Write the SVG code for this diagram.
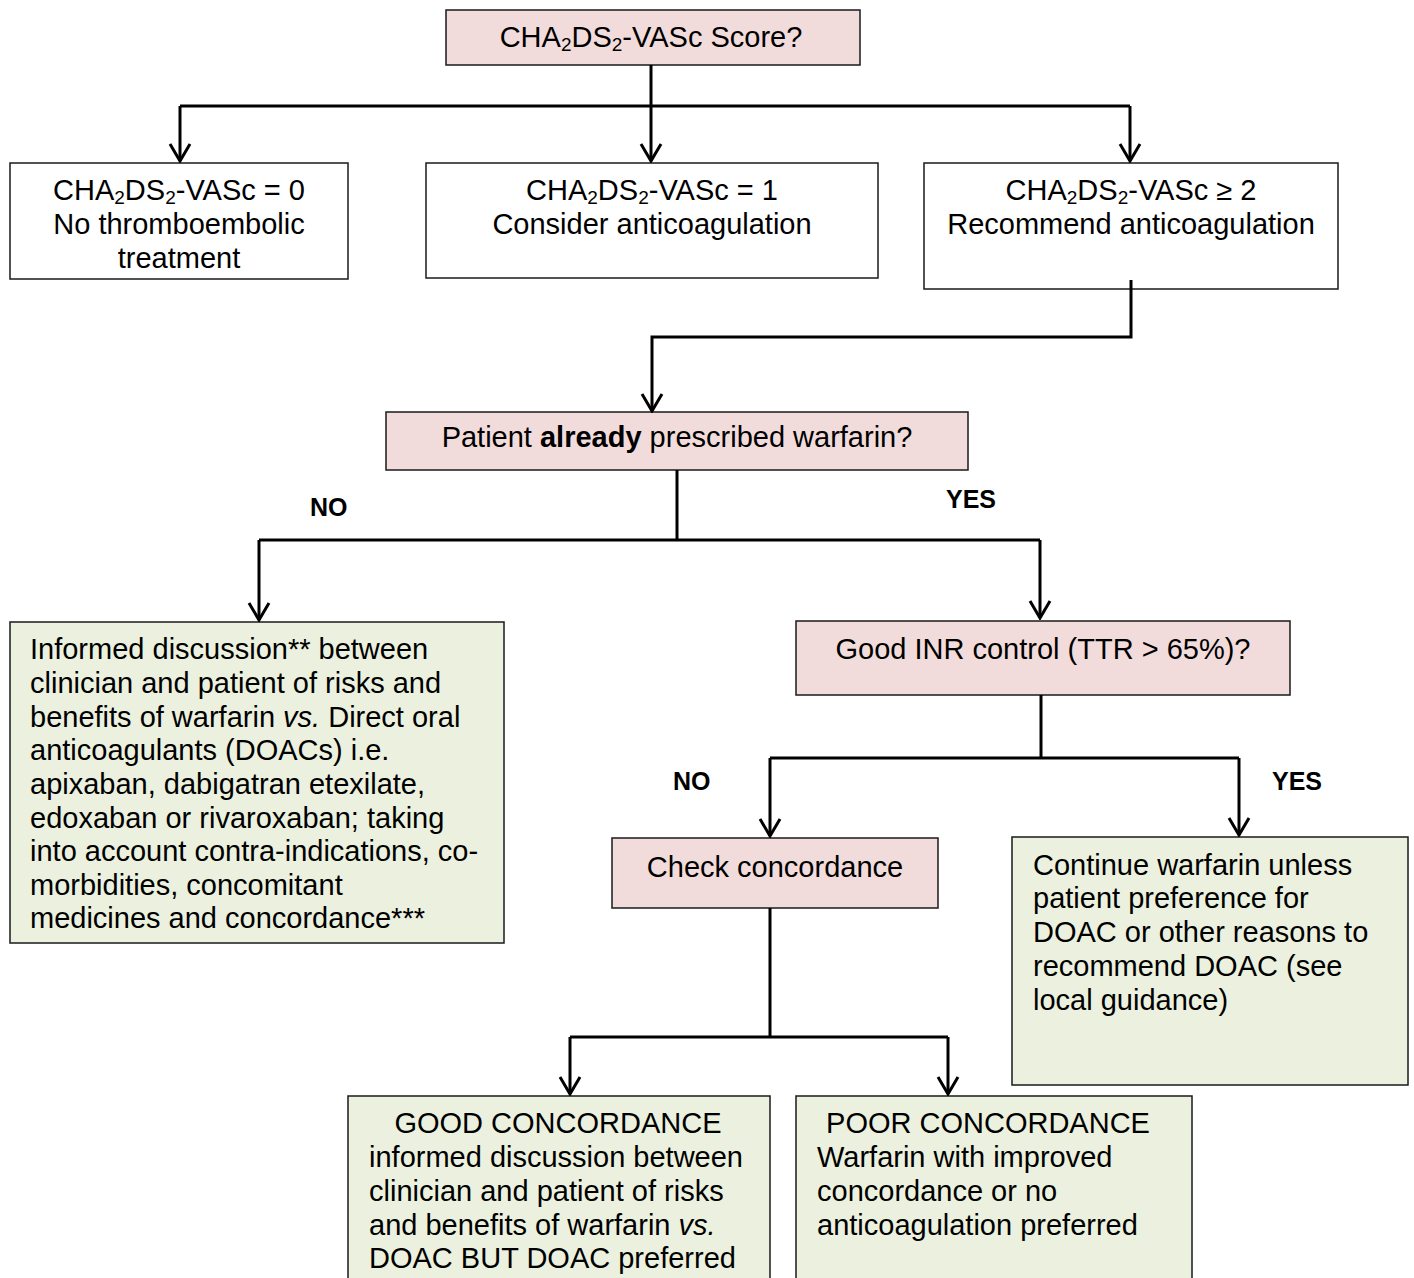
<svg xmlns="http://www.w3.org/2000/svg" width="1414" height="1278" viewBox="0 0 1414 1278">
<style>
.box{stroke:#1a1a1a;stroke-width:1.5}
.q{fill:#F2DCDB}
.g{fill:#EBF1DE}
.w{fill:#FFFFFF}
text{font-family:"Liberation Sans",Arial,sans-serif;font-size:29px;fill:#000}
.c{text-anchor:middle}
.lbl{font-weight:bold;font-size:25px}
.conn{stroke:#000;stroke-width:3;fill:none}
</style>
<defs>
<marker id="arr" viewBox="-20 -12 22 24" markerWidth="22" markerHeight="24" refX="0" refY="0" orient="auto" markerUnits="userSpaceOnUse">
<path d="M-17,-10 L0,0 L-17,10" fill="none" stroke="#000" stroke-width="3"/>
</marker>
</defs>
<rect width="1414" height="1278" fill="#fff"/>

<g id="n-score">
<rect class="box q" x="446" y="10" width="414" height="55"/>
<text class="c" x="651" y="47">CHA<tspan font-size="19" dy="4">2</tspan><tspan dy="-4">DS</tspan><tspan font-size="19" dy="4">2</tspan><tspan dy="-4">-VASc Score?</tspan></text>
</g>

<g id="n-zero">
<rect class="box w" x="10" y="163" width="338" height="116"/>
<text class="c" x="179" y="200">CHA<tspan font-size="19" dy="4">2</tspan><tspan dy="-4">DS</tspan><tspan font-size="19" dy="4">2</tspan><tspan dy="-4">-VASc = 0</tspan></text>
<text class="c" x="179" y="234">No thromboembolic</text>
<text class="c" x="179" y="268">treatment</text>
</g>

<g id="n-one">
<rect class="box w" x="426" y="163" width="452" height="115"/>
<text class="c" x="652" y="200">CHA<tspan font-size="19" dy="4">2</tspan><tspan dy="-4">DS</tspan><tspan font-size="19" dy="4">2</tspan><tspan dy="-4">-VASc = 1</tspan></text>
<text class="c" x="652" y="234">Consider anticoagulation</text>
</g>

<g id="n-two">
<rect class="box w" x="924" y="163" width="414" height="126"/>
<text class="c" x="1131" y="200">CHA<tspan font-size="19" dy="4">2</tspan><tspan dy="-4">DS</tspan><tspan font-size="19" dy="4">2</tspan><tspan dy="-4">-VASc ≥ 2</tspan></text>
<text class="c" x="1131" y="234">Recommend anticoagulation</text>
</g>

<g id="n-warfarin">
<rect class="box q" x="386" y="412" width="582" height="58"/>
<text class="c" x="677" y="447">Patient <tspan font-weight="bold">already</tspan> prescribed warfarin?</text>
</g>

<g id="n-discussion">
<rect class="box g" x="10" y="622" width="494" height="321"/>
<text x="30" y="659">Informed discussion** between</text>
<text x="30" y="693">clinician and patient of risks and</text>
<text x="30" y="727">benefits of warfarin <tspan font-style="italic">vs.</tspan> Direct oral</text>
<text x="30" y="760">anticoagulants (DOACs) i.e.</text>
<text x="30" y="794">apixaban, dabigatran etexilate,</text>
<text x="30" y="828">edoxaban or rivaroxaban; taking</text>
<text x="30" y="861">into account contra-indications, co-</text>
<text x="30" y="895">morbidities, concomitant</text>
<text x="30" y="928">medicines and concordance***</text>
</g>

<g id="n-inr">
<rect class="box q" x="796" y="621" width="494" height="74"/>
<text class="c" x="1043" y="659">Good INR control (TTR &gt; 65%)?</text>
</g>

<g id="n-check">
<rect class="box q" x="612" y="838" width="326" height="70"/>
<text class="c" x="775" y="877">Check concordance</text>
</g>

<g id="n-continue">
<rect class="box g" x="1012" y="837" width="396" height="248"/>
<text x="1033" y="875">Continue warfarin unless</text>
<text x="1033" y="908">patient preference for</text>
<text x="1033" y="942">DOAC or other reasons to</text>
<text x="1033" y="976">recommend DOAC (see</text>
<text x="1033" y="1010">local guidance)</text>
</g>

<g id="n-good">
<rect class="box g" x="348" y="1096" width="422" height="200"/>
<text class="c" x="558" y="1133">GOOD CONCORDANCE</text>
<text x="369" y="1167">informed discussion between</text>
<text x="369" y="1201">clinician and patient of risks</text>
<text x="369" y="1235">and benefits of warfarin <tspan font-style="italic">vs.</tspan></text>
<text x="369" y="1268">DOAC BUT DOAC preferred</text>
</g>

<g id="n-poor">
<rect class="box g" x="796" y="1096" width="396" height="200"/>
<text class="c" x="988" y="1133">POOR CONCORDANCE</text>
<text x="817" y="1167">Warfarin with improved</text>
<text x="817" y="1201">concordance or no</text>
<text x="817" y="1235">anticoagulation preferred</text>
</g>

<g id="labels">
<text class="lbl" x="310" y="516">NO</text>
<text class="lbl" x="946" y="508">YES</text>
<text class="lbl" x="673" y="790">NO</text>
<text class="lbl" x="1272" y="790">YES</text>
</g>

<g id="connectors">
<path class="conn" d="M651,65 V161" marker-end="url(#arr)"/>
<path class="conn" d="M180,106 H1130"/>
<path class="conn" d="M180,106 V161" marker-end="url(#arr)"/>
<path class="conn" d="M1130,106 V161" marker-end="url(#arr)"/>
<path class="conn" d="M1131,280 V337 H652 V411" marker-end="url(#arr)"/>
<path class="conn" d="M677,470 V540"/>
<path class="conn" d="M259,540 H1040"/>
<path class="conn" d="M259,540 V620" marker-end="url(#arr)"/>
<path class="conn" d="M1040,540 V618" marker-end="url(#arr)"/>
<path class="conn" d="M1041,695 V758"/>
<path class="conn" d="M770,758 H1239"/>
<path class="conn" d="M770,758 V836" marker-end="url(#arr)"/>
<path class="conn" d="M1239,758 V835" marker-end="url(#arr)"/>
<path class="conn" d="M770,908 V1037"/>
<path class="conn" d="M570,1037 H948"/>
<path class="conn" d="M570,1037 V1094" marker-end="url(#arr)"/>
<path class="conn" d="M948,1037 V1094" marker-end="url(#arr)"/>
</g>
</svg>
